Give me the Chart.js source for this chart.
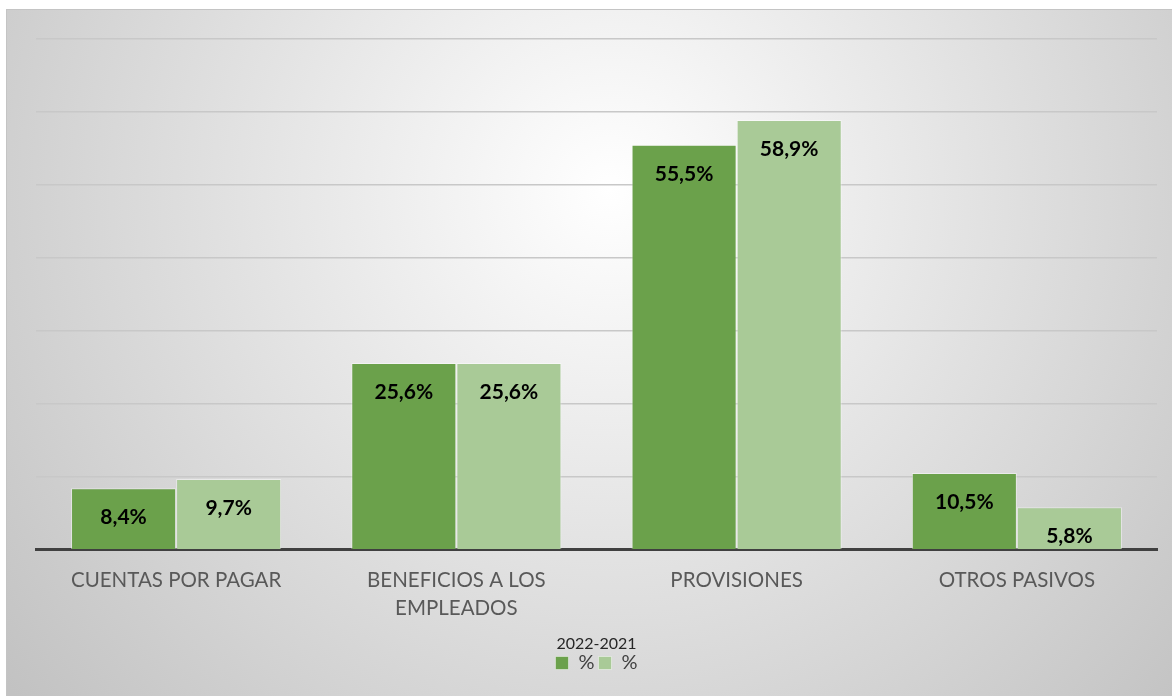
<!DOCTYPE html>
<html>
<head>
<meta charset="utf-8">
<script src="https://cdn.jsdelivr.net/npm/chart.js@4"></script>
<style>
  body { margin: 0; background: #ffffff; }
</style>
</head>
<body>
<canvas id="grafica" width="1172" height="696"></canvas>
<script>
// datos
const categorias = ["CUENTAS POR PAGAR", ["BENEFICIOS A LOS", "EMPLEADOS"], "PROVISIONES", "OTROS PASIVOS"];
const valores2022 = [8.4, 25.6, 55.5, 10.5];
const valores2021 = [9.7, 25.6, 58.9, 5.8];
const nombresSeries = ["%", "%"];
const tituloLeyenda = "2022-2021";
const maximoEje = 70;

const fuente = "Lato, 'Open Sans', sans-serif";

// fondo con degradado radial y borde del area del grafico
const fondo = {
  id: "fondo",
  beforeDraw(chart) {
    const ctx = chart.ctx;
    ctx.save();
    const g = ctx.createRadialGradient(610, 190, 0, 610, 190, 780);
    g.addColorStop(0, "#ffffff");
    g.addColorStop(1, "#c2c2c2");
    ctx.fillStyle = g;
    ctx.fillRect(6, 9, 1166, 687);
    ctx.strokeStyle = "#c4c4c4";
    ctx.lineWidth = 1;
    ctx.strokeRect(6.5, 9.5, 1170, 690);
    ctx.restore();
  }
};

// etiquetas de valor dentro de cada barra
const etiquetas = {
  id: "etiquetas",
  afterDatasetsDraw(chart) {
    const ctx = chart.ctx;
    ctx.save();
    ctx.font = "bold 21px " + fuente;
    ctx.fillStyle = "#000000";
    ctx.textAlign = "center";
    ctx.textBaseline = "middle";
    chart.data.datasets.forEach((ds, i) => {
      chart.getDatasetMeta(i).data.forEach((barra, j) => {
        const texto = ds.data[j].toFixed(1).replace(".", ",") + "%";
        ctx.fillText(texto, barra.x, barra.y + 29);
      });
    });
    ctx.restore();
  }
};

new Chart(document.getElementById("grafica"), {
  type: "bar",
  data: {
    labels: categorias,
    datasets: [
      {
        label: nombresSeries[0],
        data: valores2022,
        backgroundColor: "#6ba14b",
        borderColor: "rgba(255,255,255,0.45)",
        borderWidth: 1
      },
      {
        label: nombresSeries[1],
        data: valores2021,
        backgroundColor: "#a9ca97",
        borderColor: "rgba(255,255,255,0.45)",
        borderWidth: 1
      }
    ]
  },
  options: {
    responsive: false,
    animation: false,
    devicePixelRatio: 1,
    layout: { padding: { left: 36, right: 15, top: 39, bottom: 13 } },
    datasets: { bar: { categoryPercentage: 0.75, barPercentage: 1 } },
    scales: {
      x: {
        grid: { display: false },
        border: { display: true, color: "#404040", width: 3 },
        ticks: {
          color: "#595959",
          font: { family: fuente, size: 20.5, lineHeight: 1.35 },
          padding: 9,
          maxRotation: 0
        },
        afterFit(scale) { scale.height += 5; }
      },
      y: {
        min: 0,
        max: maximoEje,
        ticks: { display: false, stepSize: 10 },
        border: { display: false },
        grid: { color: "#c8c8c8", lineWidth: 1.5, drawTicks: false },
        afterFit(scale) { scale.width = 0; }
      }
    },
    plugins: {
      tooltip: { enabled: false },
      legend: {
        position: "bottom",
        title: {
          display: true,
          text: tituloLeyenda,
          color: "#262626",
          font: { family: fuente, size: 16, lineHeight: 1 },
          padding: { top: 0, bottom: -3 }
        },
        labels: {
          boxWidth: 13,
          boxHeight: 13,
          color: "#404040",
          font: { family: fuente, size: 20 },
          padding: 4
        }
      }
    }
  },
  plugins: [fondo, etiquetas]
});
</script>
</body>
</html>
